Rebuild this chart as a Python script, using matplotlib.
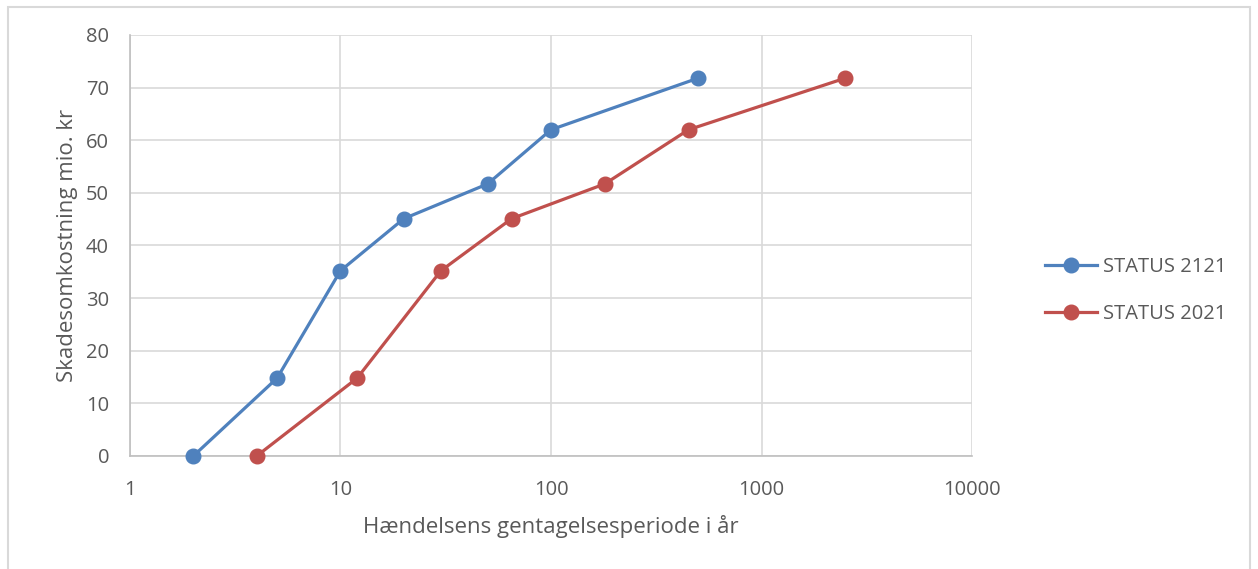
import matplotlib

matplotlib.use("Agg")
import matplotlib.pyplot as plt
from matplotlib.patches import Rectangle
from matplotlib.ticker import FixedLocator, NullLocator, FixedFormatter

plt.rcParams["font.family"] = ["Open Sans", "DejaVu Sans"]

# data
x_2121 = [2, 5, 10, 20, 50, 100, 500]
y_2121 = [0, 14.8, 35.2, 45.1, 51.7, 62.0, 71.8]
x_2021 = [4, 12, 30, 65, 180, 450, 2500]
y_2021 = [0, 14.8, 35.2, 45.1, 51.7, 62.0, 71.8]
labels = ["STATUS 2121", "STATUS 2021"]
x_ticks = [1, 10, 100, 1000, 10000]
x_ticklabels = ["1", "10", "100", "1000", "10000"]
y_ticks = [0, 10, 20, 30, 40, 50, 60, 70, 80]

BLUE = "#4F81BD"
RED = "#C0504D"
GRID = "#D9D9D9"
TEXT = "#595959"

fig = plt.figure(figsize=(12.58, 5.69), dpi=100)
ax = fig.add_axes([0.1033, 0.1986, 0.6694, 0.7399])

ax.plot(x_2121, y_2121, "o-", color=BLUE, lw=2.3, markersize=10.5, label=labels[0],
        clip_on=False, zorder=3)
ax.plot(x_2021, y_2021, "o-", color=RED, lw=2.3, markersize=10.5, label=labels[1],
        clip_on=False, zorder=3)

ax.set_xscale("log")
ax.set_xlim(1, 10000)
ax.set_ylim(0, 80)
ax.xaxis.set_major_locator(FixedLocator(x_ticks))
ax.xaxis.set_major_formatter(FixedFormatter(x_ticklabels))
ax.xaxis.set_minor_locator(NullLocator())
ax.set_yticks(y_ticks)

ax.grid(True, color=GRID, lw=1.2)
ax.set_axisbelow(True)
for side in ["top", "right"]:
    ax.spines[side].set_visible(False)
for side in ["left", "bottom"]:
    ax.spines[side].set_color("#BFBFBF")
    ax.spines[side].set_linewidth(1.2)

ax.tick_params(axis="both", length=0, labelsize=14.5, labelcolor=TEXT)
ax.tick_params(axis="x", pad=17)
ax.tick_params(axis="y", pad=15)

ax.set_xlabel("Hændelsens gentagelsesperiode i år", fontsize=16, color=TEXT, labelpad=11)
ax.set_ylabel("Skadesomkostning mio. kr", fontsize=16, color=TEXT, labelpad=6)

fig.legend(loc="center left", bbox_to_anchor=(0.8307, 0.4895), frameon=False,
           fontsize=14.5, labelcolor=TEXT, handlelength=2.6, handletextpad=0.3,
           labelspacing=1.3, borderpad=0, borderaxespad=0)

fig.patches.append(Rectangle((0.0064, -0.02), 0.987, 1.008, transform=fig.transFigure,
                             fill=False, edgecolor=GRID, lw=1.5))

fig.savefig("out.png", dpi=100)
